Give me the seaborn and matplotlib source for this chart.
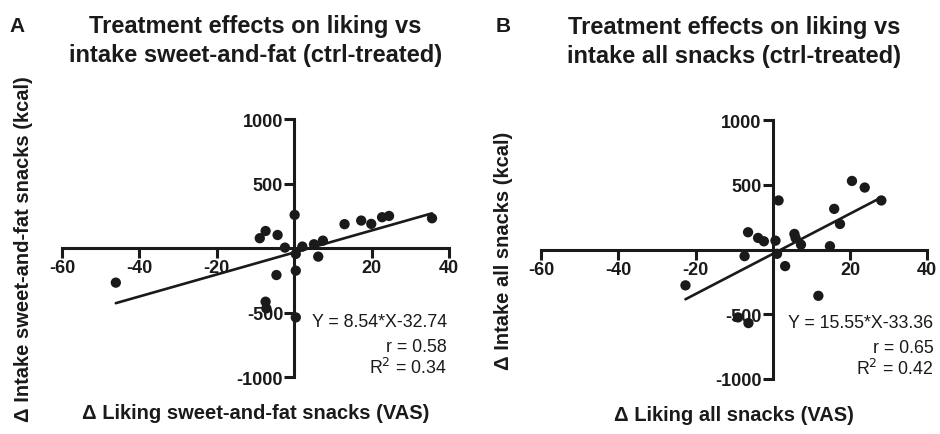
import numpy as np
import pandas as pd
import seaborn as sns
import matplotlib.pyplot as plt

sns.set_theme(style="white")
plt.rcParams['font.family'] = ['Liberation Sans', 'DejaVu Sans']
plt.rcParams['axes.unicode_minus'] = False

# Panel A: sweet-and-fat snacks
liking_a = [-46.1, -8.9, -7.4, -4.3, -2.4, 0.1, 0.4, 0.4, 0.4, 2.1, -4.6, -7.4, -7.2,
            5.1, 6.2, 7.4, 13.0, 17.3, 19.9, 22.7, 24.5, 35.6]
intake_a = [-267, 78, 134, 103, 5, 259, -44, -174, -537, 13, -208, -415, -467,
            31, -65, 59, 187, 215, 189, 241, 251, 233]
slope_a, icpt_a, r_a, r2_a = 8.54, -32.74, 0.58, 0.34

# Panel B: all snacks
liking_b = [-22.6, -6.4, -7.3, -3.8, -2.3, -9.0, -6.3, 0.7, 1.5, 1.1, 3.2, 5.6, 5.9,
            7.3, 11.8, 14.8, 15.9, 17.4, 20.5, 23.8, 28.1]
intake_b = [-277, 134, -51, 90, 64, -525, -569, 69, 380, -33, -128, 121, 90,
            38, -358, 26, 315, 198, 531, 480, 380]
slope_b, icpt_b, r_b, r2_b = 15.55, -33.36, 0.65, 0.42

panels = [
    dict(letter='A', x=liking_a, y=intake_a, slope=slope_a, icpt=icpt_a, r=r_a, r2=r2_a,
         title='Treatment effects on liking vs\nintake sweet-and-fat (ctrl-treated)',
         xlabel='\u0394 Liking sweet-and-fat snacks (VAS)',
         ylabel='\u0394 Intake sweet-and-fat snacks (kcal)',
         rect=[0.066, 0.131, 0.4117, 0.592], ylab_x=-0.075, ann_x=0.995),
    dict(letter='B', x=liking_b, y=intake_b, slope=slope_b, icpt=icpt_b, r=r_b, r2=r2_b,
         title='Treatment effects on liking vs\nintake all snacks (ctrl-treated)',
         xlabel='\u0394 Liking all snacks (VAS)',
         ylabel='\u0394 Intake all snacks (kcal)',
         rect=[0.5755, 0.127, 0.411, 0.594], ylab_x=-0.073, ann_x=1.016),
]

fig = plt.figure(figsize=(9.4, 4.35), dpi=100)
ink = '#1a1a1a'

for p in panels:
    ax = fig.add_axes(p['rect'])
    df = pd.DataFrame({'liking': p['x'], 'intake': p['y']})
    sns.scatterplot(data=df, x='liking', y='intake', ax=ax, color=ink, s=55,
                    edgecolor='none', zorder=3)
    # fitted line from the reported equation
    xs = np.array([df['liking'].min(), df['liking'].max()])
    fit = pd.DataFrame({'liking': xs, 'intake': p['slope'] * xs + p['icpt']})
    sns.lineplot(data=fit, x='liking', y='intake', ax=ax, color=ink, linewidth=1.9, zorder=3)

    ax.set_xlim(-60, 40)
    ax.set_ylim(-1000, 1000)
    ax.set_xticks([-60, -40, -20, 20, 40])
    ax.set_yticks([-1000, -500, 500, 1000])
    ax.spines['left'].set_position(('data', 0))
    ax.spines['bottom'].set_position(('data', 0))
    ax.spines['top'].set_visible(False)
    ax.spines['right'].set_visible(False)
    for s in ['left', 'bottom']:
        ax.spines[s].set_linewidth(2.2)
        ax.spines[s].set_color(ink)
    ax.tick_params(axis='both', direction='out', length=7, width=2.2, color=ink,
                   labelsize=13, pad=1, bottom=True, left=True)
    for lab in ax.get_xticklabels() + ax.get_yticklabels():
        lab.set_fontweight('bold')
        lab.set_color(ink)

    ax.set_xlabel(p['xlabel'], fontsize=14.5, fontweight='bold', color=ink)
    ax.xaxis.set_label_coords(0.5, -0.1)
    ax.set_ylabel(p['ylabel'], fontsize=14.5, fontweight='bold', color=ink)
    ax.yaxis.set_label_coords(p['ylab_x'], 0.5)

    ax.set_title(p['title'], fontsize=17, fontweight='bold', color=ink, pad=42,
                 linespacing=1.35)

    ax.text(p['ann_x'], 0.217, 'Y = %.2f*X%.2f' % (p['slope'], p['icpt']), transform=ax.transAxes,
            ha='right', va='center', fontsize=12.8, color=ink)
    ax.text(p['ann_x'], 0.12, 'r = %.2f' % p['r'], transform=ax.transAxes,
            ha='right', va='center', fontsize=12.8, color=ink)
    ax.text(p['ann_x'], 0.04, 'R$^2$ = %.2f' % p['r2'], transform=ax.transAxes,
            ha='right', va='center', fontsize=12.8, color=ink)

fig.text(0.018, 0.94, 'A', fontsize=15, fontweight='bold', color=ink, ha='center', va='center')
fig.text(0.535, 0.94, 'B', fontsize=15, fontweight='bold', color=ink, ha='center', va='center')

fig.savefig('out.png', dpi=100)
